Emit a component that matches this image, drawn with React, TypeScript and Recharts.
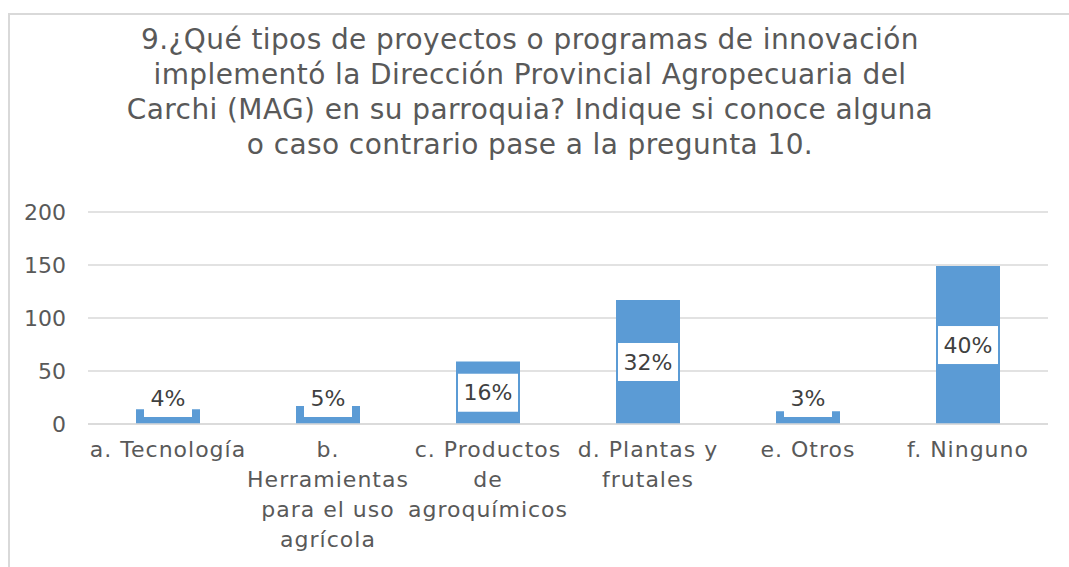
import { BarChart, Bar, XAxis, YAxis, CartesianGrid, LabelList } from 'recharts';

const categories = [
  'a. Tecnología',
  'b. Herramientas para el uso agrícola',
  'c. Productos de agroquímicos',
  'd. Plantas y frutales',
  'e. Otros',
  'f. Ninguno',
];
// how Excel wrapped each category label
const tickLines = [
  ['a. Tecnología'],
  ['b.', 'Herramientas', 'para el uso', 'agrícola'],
  ['c. Productos', 'de', 'agroquímicos'],
  ['d. Plantas y', 'frutales'],
  ['e. Otros'],
  ['f. Ninguno'],
];
const counts = [14, 17, 59, 117, 12, 149];
const percentLabels = ['4%', '5%', '16%', '32%', '3%', '40%'];
const yTicks = [0, 50, 100, 150, 200];

const titleLines = [
  '9.¿Qué tipos de proyectos o programas de innovación',
  'implementó la Dirección Provincial Agropecuaria del',
  'Carchi (MAG) en su parroquia? Indique si conoce alguna',
  'o caso contrario pase a la pregunta 10.',
];

const data = categories.map((name, i) => ({ name, value: counts[i], pct: percentLabels[i] }));

const FONT = '"DejaVu Sans", sans-serif';
const AXIS_COLOR = '#595959';
const GRID = '#D9D9D9';
const BAR = '#5B9BD5';

const CategoryTick = (props: any) => {
  const { x, y, index } = props;
  const lines = tickLines[index] || [];
  return (
    <text x={x} y={y} textAnchor="middle" fill={AXIS_COLOR} fontSize={22} letterSpacing={1} fontFamily={FONT}>
      {lines.map((l, i) => (
        <tspan key={i} x={x} dy={i === 0 ? 25 : 30}>
          {l}
        </tspan>
      ))}
    </text>
  );
};

const PctLabel = (props: any) => {
  const { x, y, width, height, value } = props;
  const text = String(value);
  const boxW = 12 * text.length + 24;
  const boxH = 38;
  const bottom = y + height;
  const cy = Math.min(y + height / 2, bottom - 26);
  const cx = x + width / 2;
  return (
    <g>
      <rect x={cx - boxW / 2} y={cy - boxH / 2} width={boxW} height={boxH} fill="#FFFFFF" />
      <text x={cx} y={cy} dy="0.35em" textAnchor="middle" fill="#404040" fontSize={22} fontFamily={FONT}>
        {text}
      </text>
    </g>
  );
};

export default function App() {
  return (
    <div style={{ position: 'absolute', left: 0, top: 0, width: 1069, height: 567, overflow: 'hidden', background: '#fff' }}>
      <div
        style={{
          position: 'absolute',
          left: 8,
          top: 13,
          width: 1200,
          height: 700,
          borderLeft: `2px solid ${GRID}`,
          borderTop: `2px solid ${GRID}`,
        }}
      />
      <div
        style={{
          position: 'absolute',
          left: 0,
          top: 22,
          width: 1060,
          textAlign: 'center',
          fontFamily: FONT,
          fontSize: 28,
          letterSpacing: 0.4,
          lineHeight: '35px',
          color: AXIS_COLOR,
        }}
      >
        {titleLines.map((l, i) => (
          <div key={i}>{l}</div>
        ))}
      </div>
      <div style={{ position: 'absolute', left: 0, top: 0 }}>
        <BarChart
          width={1069}
          height={567}
          data={data}
          margin={{ top: 212, right: 21, left: 0, bottom: 0 }}
        >
          <CartesianGrid vertical={false} stroke={GRID} strokeWidth={1.5} />
          <XAxis
            dataKey="name"
            height={143}
            axisLine={{ stroke: GRID, strokeWidth: 1.5 }}
            tickLine={false}
            interval={0}
            tick={<CategoryTick />}
          />
          <YAxis
            width={88}
            domain={[0, 200]}
            ticks={yTicks}
            axisLine={false}
            tickLine={false}
            tickSize={0}
            tickMargin={22}
            tick={{ fill: AXIS_COLOR, fontSize: 22, fontFamily: FONT }}
          />
          <Bar dataKey="value" fill={BAR} barSize={64} isAnimationActive={false}>
            <LabelList dataKey="pct" content={<PctLabel />} />
          </Bar>
        </BarChart>
      </div>
    </div>
  );
}
